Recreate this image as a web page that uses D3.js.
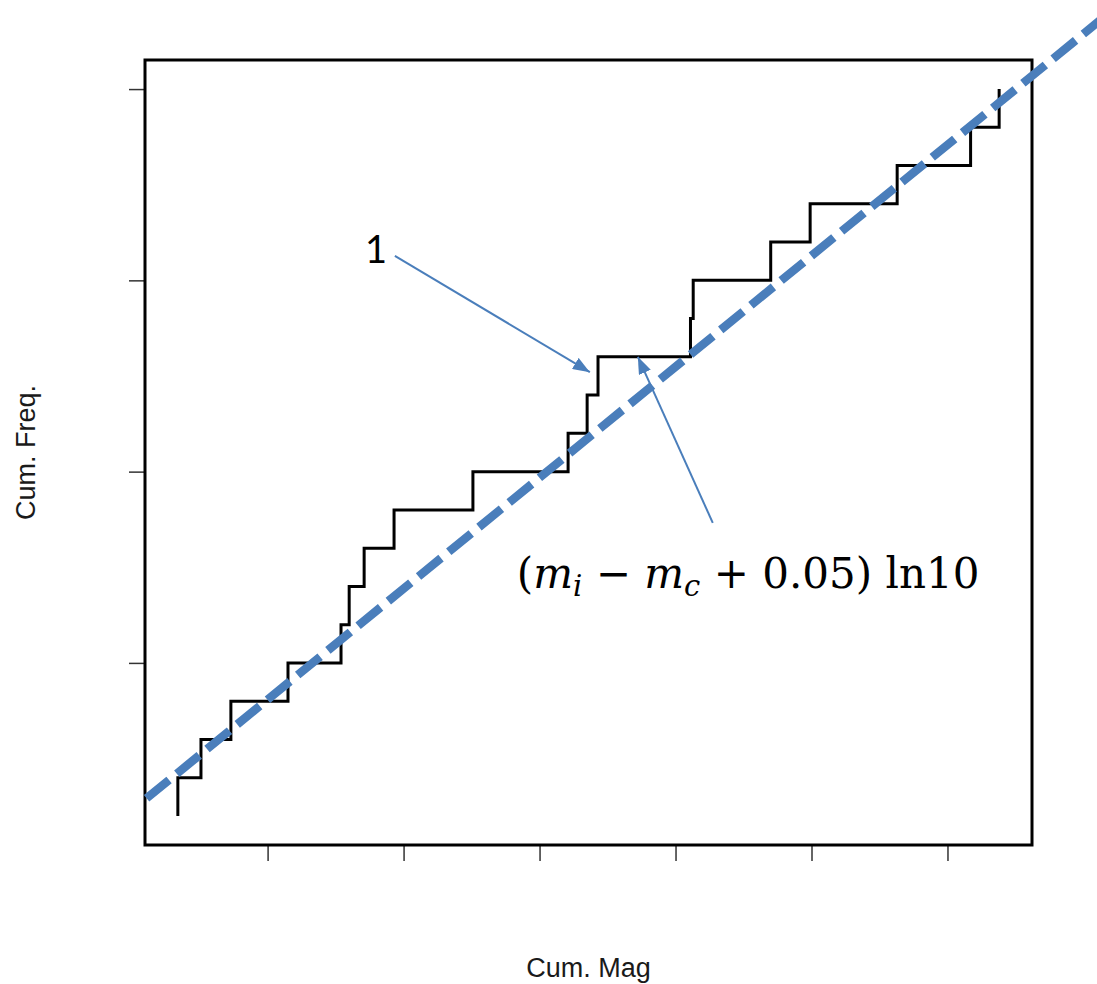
<!DOCTYPE html>
<html>
<head>
<meta charset="utf-8">
<script src="https://cdn.jsdelivr.net/npm/d3@7"></script>
<style>
  body { margin: 0; background: #fff; }
  svg { display: block; }
</style>
</head>
<body>
<svg width="1097" height="984"></svg>
<script>
// step curve: magnitude where each step happens, and the count it reaches
// (the first point is just where the curve starts)
const cumMag = [0.34, 0.34, 0.51, 0.73, 1.15, 1.54, 1.60, 1.71, 1.93, 2.51,
                3.21, 3.35, 3.43, 4.11, 4.13, 4.70, 4.99, 5.63, 6.17, 6.38];
const cumFreq = [1, 2, 3, 4, 5, 6, 7, 8, 9, 10,
                 11, 12, 13, 14, 15, 16, 17, 18, 19, 20];

// dashed fit line, its two ends
const fitMag = [0.11, 7.12];
const fitFreq = [1.46, 21.79];

const xTicks = [1, 2, 3, 4, 5, 6];
const yTicks = [5, 10, 15, 20];

const xLabel = "Cum. Mag";
const yLabel = "Cum. Freq.";

document.addEventListener('DOMContentLoaded', function () {

    const svg = d3.select("svg");
    const margin = { top: 60, right: 65, bottom: 139, left: 145 };
    const width = +svg.attr("width") - margin.left - margin.right;
    const height = +svg.attr("height") - margin.top - margin.bottom;
    const g = svg.append("g").attr("transform", `translate(${margin.left},${margin.top})`);

    const blue = "#4a7ebb";

    // R style: data range padded 4% on each side
    const xr = d3.extent(cumMag), yr = d3.extent(cumFreq);
    const xPad = (xr[1] - xr[0]) * 0.04, yPad = (yr[1] - yr[0]) * 0.04;
    const x = d3.scaleLinear().domain([xr[0] - xPad, xr[1] + xPad]).range([0, width]);
    const y = d3.scaleLinear().domain([yr[0] - yPad, yr[1] + yPad]).range([height, 0]);

    // axes, ticks only
    const xAxis = g.append("g")
        .attr("transform", `translate(0,${height})`)
        .call(d3.axisBottom(x).tickValues(xTicks).tickSize(16).tickSizeOuter(0).tickFormat(""));
    const yAxis = g.append("g")
        .call(d3.axisLeft(y).tickValues(yTicks).tickSize(16).tickSizeOuter(0).tickFormat(""));
    [xAxis, yAxis].forEach(a => {
        a.select(".domain").remove();
        a.selectAll(".tick line").attr("stroke", "#333").attr("stroke-width", 1.5);
    });

    g.append("rect")
        .attr("width", width)
        .attr("height", height)
        .attr("fill", "none")
        .attr("stroke", "#000")
        .attr("stroke-width", 3);

    // step curve
    const pts = cumMag.map((m, i) => ({ mag: m, freq: cumFreq[i] }));
    const step = d3.line()
        .x(d => x(d.mag))
        .y(d => y(d.freq))
        .curve(d3.curveStepAfter);

    g.append("path")
        .datum(pts)
        .attr("d", step)
        .attr("fill", "none")
        .attr("stroke", "#000")
        .attr("stroke-width", 3)
        .attr("stroke-linejoin", "miter");

    // dashed line (goes past the box on the right, like the original)
    g.append("line")
        .attr("x1", x(fitMag[0])).attr("y1", y(fitFreq[0]))
        .attr("x2", x(fitMag[1])).attr("y2", y(fitFreq[1]))
        .attr("stroke", blue)
        .attr("stroke-width", 8.5)
        .attr("stroke-dasharray", "29,10");

    // arrow head
    svg.append("defs").append("marker")
        .attr("id", "arrow")
        .attr("markerUnits", "userSpaceOnUse")
        .attr("markerWidth", 17).attr("markerHeight", 13)
        .attr("refX", 17).attr("refY", 6.5)
        .attr("orient", "auto")
        .append("path")
        .attr("d", "M0,0 L17,6.5 L0,13 Z")
        .attr("fill", blue);

    const arrows = [
        { from: [1.936, 15.64], to: [3.37, 12.6] },
        { from: [4.274, 8.66], to: [3.723, 13.0] }
    ];
    g.selectAll(".arrow").data(arrows).enter().append("line")
        .attr("class", "arrow")
        .attr("x1", d => x(d.from[0])).attr("y1", d => y(d.from[1]))
        .attr("x2", d => x(d.to[0])).attr("y2", d => y(d.to[1]))
        .attr("stroke", blue)
        .attr("stroke-width", 2)
        .attr("marker-end", "url(#arrow)");

    g.append("text")
        .attr("x", x(1.716)).attr("y", y(15.45))
        .attr("font-family", "Lato, 'Open Sans', sans-serif")
        .attr("font-size", 38)
        .attr("fill", "#000")
        .text("1");

    // (m_i - m_c + 0.05) ln10
    const f = g.append("text")
        .attr("x", x(2.833)).attr("y", y(6.96))
        .attr("font-family", "'DejaVu Serif', serif")
        .attr("font-size", 42)
        .attr("fill", "#000");
    f.append("tspan").text("(");
    f.append("tspan").attr("font-style", "italic").text("m");
    f.append("tspan").attr("font-style", "italic").attr("font-size", 29).attr("dy", 8).text("i");
    f.append("tspan").attr("dy", -8).text(" \u2212 ");
    f.append("tspan").attr("font-style", "italic").text("m");
    f.append("tspan").attr("font-style", "italic").attr("font-size", 29).attr("dy", 8).text("c");
    f.append("tspan").attr("dy", -8).text(" + 0.05) ln10");

    // axis titles
    svg.append("text")
        .attr("x", margin.left + width / 2)
        .attr("y", 977)
        .attr("text-anchor", "middle")
        .attr("font-family", "'Liberation Sans', Arial, sans-serif")
        .attr("font-size", 27)
        .attr("fill", "#1a1a1a")
        .text(xLabel);

    svg.append("text")
        .attr("transform", `translate(35,${margin.top + height / 2}) rotate(-90)`)
        .attr("text-anchor", "middle")
        .attr("font-family", "'Liberation Sans', Arial, sans-serif")
        .attr("font-size", 27)
        .attr("fill", "#1a1a1a")
        .text(yLabel);
});
</script>
</body>
</html>
